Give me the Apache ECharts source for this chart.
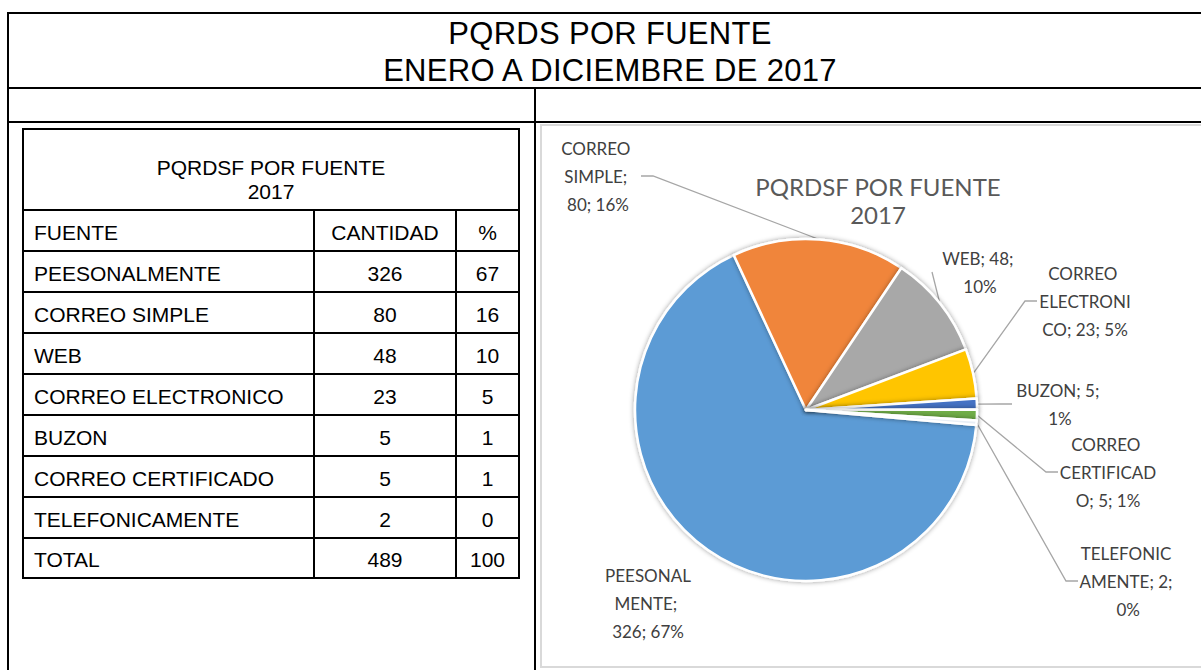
<!DOCTYPE html>
<html>
<head>
<meta charset="utf-8">
<title>PQRDS POR FUENTE</title>
<script src="https://cdn.jsdelivr.net/npm/echarts@6/dist/echarts.min.js"></script>
<style>
  html, body { margin: 0; padding: 0; background: #fff; }
  body { width: 1201px; height: 670px; overflow: hidden; position: relative; font-family: "Liberation Sans", Arial, sans-serif; }
  .ln { position: absolute; background: #000; }
  .titulo { position: absolute; left: 7px; width: 1206px; top: 15px; text-align: center; font-size: 31px; letter-spacing: 0.3px; line-height: 37px; color: #000; }
  table.tabla { position: absolute; left: 22px; top: 128px; border-collapse: collapse; font-size: 21px; color: #000; }
  table.tabla td { border: 2px solid #000; padding: 0 0 6px 10px; vertical-align: bottom; line-height: 22px; white-space: nowrap; }
  table.tabla td.c { text-align: center; padding-left: 0; }
  #marco { position: absolute; left: 540px; top: 124px; width: 676px; height: 544px; border: 2px solid #d9d9d9; box-sizing: border-box; }
  #pie { position: absolute; left: 0; top: 0; right: 0; bottom: 0; }
</style>
</head>
<body>
<div class="ln" style="left:7px;top:12px;width:1210px;height:2px"></div>
<div class="ln" style="left:7px;top:12px;width:2px;height:660px"></div>
<div class="ln" style="left:7px;top:87px;width:1210px;height:2px"></div>
<div class="ln" style="left:7px;top:121px;width:1210px;height:2px"></div>
<div class="ln" style="left:534px;top:87px;width:2px;height:590px"></div>
<div class="titulo">PQRDS POR FUENTE<br>ENERO A DICIEMBRE DE 2017</div>
<table class="tabla" id="tabla"></table>
<div id="marco"><div id="pie"></div></div>
<script>
// datos de la tabla y del grafico
const fuentes = ['PEESONALMENTE', 'CORREO SIMPLE', 'WEB', 'CORREO ELECTRONICO', 'BUZON', 'CORREO CERTIFICADO', 'TELEFONICAMENTE'];
const cantidades = [326, 80, 48, 23, 5, 5, 2];
const porcentajes = [67, 16, 10, 5, 1, 1, 0];
const totalCantidad = 489;
const totalPorcentaje = 100;
const colores = ['#5B9BD5', '#F0853A', '#A8A8A8', '#FFC505', '#4472C4', '#70AD47', '#E8EEF5'];

// ubicacion y ancho de las etiquetas (como las deja excel), relativo al area del grafico
const posEtiquetas = [[106, 477], [56, 50], [438, 146], [543, 175], [518, 278], [566, 346], [584, 455]];
const anchoEtiquetas = [96, 86, 96, 96, 96, 100, 96];

// tabla de la izquierda
let html = '<colgroup><col style="width:291px"><col style="width:142px"><col style="width:63px"></colgroup>';
html += '<tr style="height:81px"><td colspan="3" class="c" style="padding-bottom:5px;line-height:24px">PQRDSF POR FUENTE<br>2017</td></tr>';
html += '<tr style="height:41px"><td>FUENTE</td><td class="c">CANTIDAD</td><td class="c">%</td></tr>';
for (let i = 0; i < fuentes.length; i++) {
  html += '<tr style="height:41px"><td>' + fuentes[i] + '</td><td class="c">' + cantidades[i] + '</td><td class="c">' + porcentajes[i] + '</td></tr>';
}
html += '<tr style="height:40px"><td>TOTAL</td><td class="c">' + totalCantidad + '</td><td class="c">' + totalPorcentaje + '</td></tr>';
document.getElementById('tabla').innerHTML = html;

// grafico de torta
let myChart = echarts.init(document.getElementById('pie'), null, {renderer: 'svg'});
let option = {
  animation: false,
  title: {
    text: 'PQRDSF POR FUENTE\n2017',
    left: 'center',
    top: 41,
    textStyle: { fontFamily: 'Lato', fontSize: 24, fontWeight: 'normal', color: '#595959', lineHeight: 28 }
  },
  series: [
    {
      type: 'pie',
      center: [264, 284],
      radius: 171,
      startAngle: -5,
      clockwise: true,
      percentPrecision: 0,
      color: colores,
      data: fuentes.map(function (f, i) {
        return {
          name: f,
          value: cantidades[i],
          label: { width: anchoEtiquetas[i] },
          labelLine: { show: i !== 0 }   // la de PEESONALMENTE no lleva linea
        };
      }),
      itemStyle: { borderColor: '#fff', borderWidth: 2.5, shadowBlur: 5, shadowColor: 'rgba(0,0,0,0.4)' },
      label: {
        formatter: '{b}; {c}; {d}%',
        overflow: 'break',
        align: 'center',
        fontFamily: 'Lato',
        fontSize: 17,
        lineHeight: 28,
        color: '#404040'
      },
      labelLine: { length: 20, length2: 12, lineStyle: { color: '#a6a6a6', width: 1.3 } },
      labelLayout: function (params) {
        const p = posEtiquetas[params.dataIndex];
        return { x: p[0], y: p[1], align: 'center', verticalAlign: 'middle' };
      }
    }
  ]
};
myChart.setOption(option);
</script>
</body>
</html>
